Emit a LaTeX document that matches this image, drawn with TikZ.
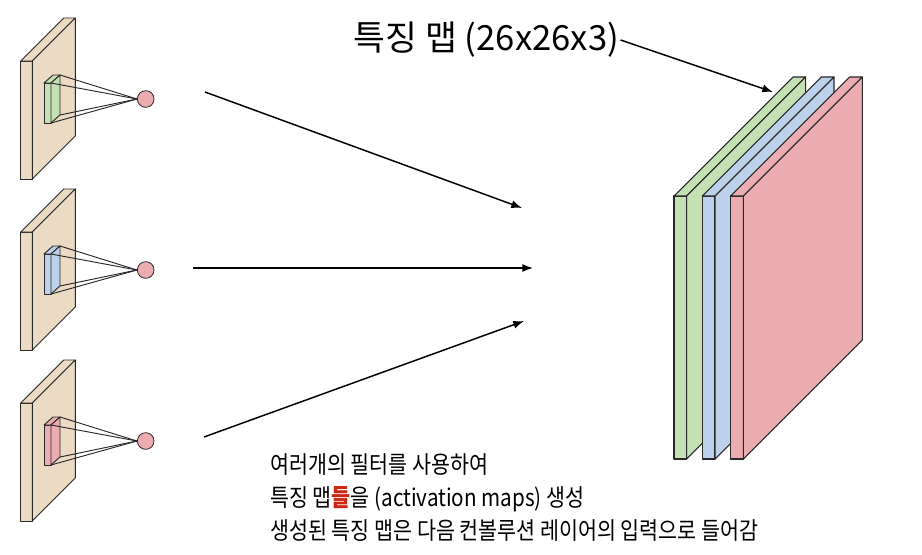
\documentclass[tikz,border=0pt]{standalone}
\usepackage{fontspec}
\setmainfont{Noto Sans CJK KR}
\newfontfamily\notefont[FakeStretch=0.86]{Noto Sans CJK KR}
\usetikzlibrary{arrows.meta}

\definecolor{slabbeige}{RGB}{235,218,196}
\definecolor{mapgreen}{RGB}{197,224,180}
\definecolor{mapblue}{RGB}{189,209,234}
\definecolor{mappink}{RGB}{236,173,178}
\definecolor{edgegray}{RGB}{40,40,40}
\definecolor{markred}{RGB}{205,40,20}

\begin{document}
\begin{tikzpicture}[x=0.75pt, y=-0.75pt, line join=round]
	\useasboundingbox (0,0) rectangle (922,554);

	% input slabs, one small filter each
	\foreach \k/\col in {0/mapgreen, 1/mapblue, 2/mappink} {
	\begin{scope}[shift={(0,171*\k)}]
	\filldraw[fill=slabbeige, draw=edgegray, line width=0.7pt] (20.7, 61)
	  -- ++(11.6, 0)
	  -- ++(0, 118)
	  -- ++(-11.6, 0)
	  -- cycle;
	\filldraw[fill=slabbeige, draw=edgegray, line width=0.7pt] (20.7, 61)
	  -- ++(43, -43) -- ++(11.6, 0) -- ++(-43, 43) -- cycle;
	\filldraw[fill=slabbeige, draw=edgegray, line width=0.7pt] (32.3, 61)
	  -- ++(43, -43)
	  -- ++(0, 118)
	  -- ++(-43, 43)
	  -- cycle;

	\filldraw[fill=\col, draw=edgegray, line width=0.7pt] (44, 83) -- ++(7, 0) -- ++(0, 40) -- ++(-7, 0) -- cycle;
	\filldraw[fill=\col, draw=edgegray, line width=0.7pt] (44, 83) -- ++(9, -8) -- ++(7, 0) -- ++(-9, 8) -- cycle;
	\filldraw[fill=\col, draw=edgegray, line width=0.7pt] (51, 83) -- ++(9, -8) -- ++(0, 40) -- ++(-9, 8) -- cycle;

	\coordinate (fa\k) at (60, 75);
	\coordinate (fb\k) at (51, 83);
	\coordinate (fc\k) at (60, 115);
	\coordinate (fd\k) at (51, 123);

	\node[circle, fill=mappink, draw=edgegray, line width=0.6pt, inner sep=0pt, minimum size=12.5pt] (neuron\k) at (145.7, 99) {};

	\foreach \c in {a,b,c,d}
	  \draw[edgegray, line width=0.7pt] (f\c\k) -- (neuron\k.west);
	\end{scope}
	}

	% feature maps
	\foreach \col [count=\k from 0] in {mapgreen, mapblue, mappink} {
	\begin{scope}[shift={(28.3*\k, 0)}]
	\filldraw[fill=\col, draw=edgegray, line width=0.8pt] (674, 196)
	  -- ++(12.7, 0)
	  -- ++(0, 263)
	  -- ++(-12.7, 0)
	  -- cycle;
	\filldraw[fill=\col, draw=edgegray, line width=0.8pt] (674, 196)
	  -- ++(119, -119) -- ++(12.7, 0) -- ++(-119, 119) -- cycle;
	\filldraw[fill=\col, draw=edgegray, line width=0.8pt] (686.7, 196)
	  -- ++(119, -119)
	  -- ++(0, 263)
	  -- ++(-119, 119)
	  -- cycle;
	\end{scope}
	}

	% arrows into the stack
	\coordinate (out0) at (205, 92);
	\coordinate (in0) at (522, 208);
	\coordinate (out1) at (193, 268);
	\coordinate (in1) at (533, 268);
	\coordinate (out2) at (204, 437);
	\coordinate (in2) at (524, 321);
	\foreach \k in {0,1,2}
	  \draw[-{Latex[length=8pt, width=6pt]}, line width=1.1pt] (out\k) -- (in\k);

	\node[anchor=west, inner sep=1pt, font=\fontsize{26pt}{30pt}\selectfont] (title) at (352, 40) {특징 맵 (26x26x3)};
	\coordinate (maptop) at (773, 92);
	\draw[-{Latex[length=8pt, width=6pt]}, line width=1.1pt] (title.east) -- (maptop);

	\node[anchor=north west, inner sep=0pt, align=left, font=\notefont\fontsize{18pt}{25pt}\selectfont] (note) at (270, 453)
	  {여러개의 필터를 사용하여\\
	   특징 맵{\color{markred}\bfseries 들}을 (activation maps) 생성\\
	   생성된 특징 맵은 다음 컨볼루션 레이어의 입력으로 들어감};
\end{tikzpicture}
\end{document}
